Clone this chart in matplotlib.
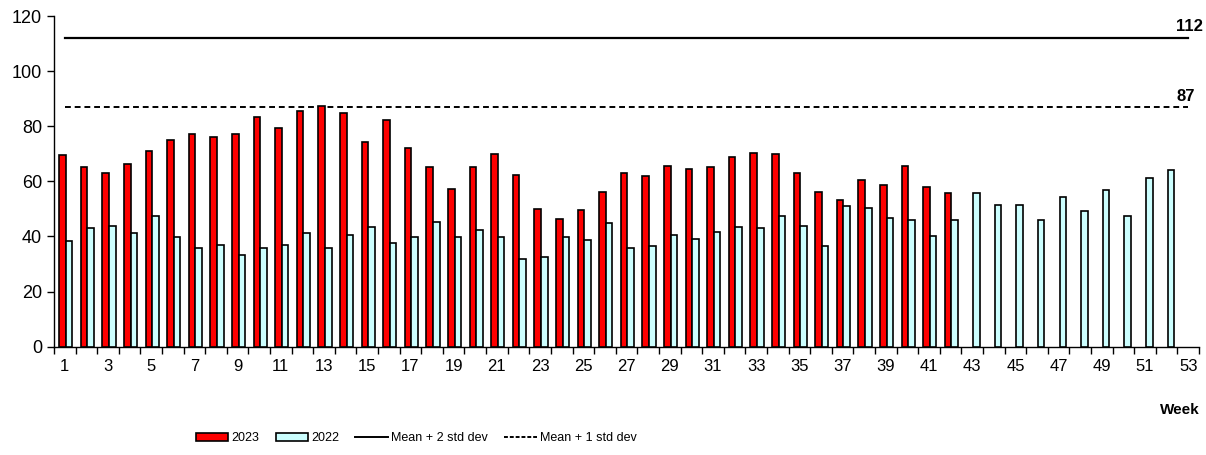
import matplotlib
matplotlib.use('Agg')
import matplotlib.pyplot as plt
import matplotlib.patches as mpatches
from matplotlib.lines import Line2D
import numpy as np

plt.rcParams.update({"font.family": ["Liberation Sans", "DejaVu Sans"]})

# weekly values
weeks = np.arange(1, 54)
y2023 = [69.5, 65.3, 63.1, 66.3, 70.9, 75.1, 77.3, 76.2, 77.3, 83.3,
         79.2, 85.5, 87.5, 84.8, 74.4, 82.2, 72.2, 65.2, 57.3, 65.2,
         69.8, 62.2, 49.9, 46.3, 49.6, 56.1, 63.2, 61.9, 65.5, 64.4,
         65.3, 68.9, 70.3, 69.8, 63.0, 56.3, 53.2, 60.6, 58.5, 65.5,
         58.0, 55.9]
y2022 = [38.2, 43.0, 43.9, 41.2, 47.4, 39.7, 35.7, 36.9, 33.4, 36.0,
         37.0, 41.4, 36.0, 40.4, 43.4, 37.6, 39.9, 45.3, 39.7, 42.4,
         39.9, 31.8, 32.4, 39.9, 38.8, 44.9, 36.0, 36.5, 40.7, 39.1,
         41.6, 43.5, 43.2, 47.3, 43.7, 36.6, 50.9, 50.2, 46.8, 46.1,
         40.0, 46.1, 55.9, 51.6, 51.6, 45.8, 54.2, 49.3, 56.7, 47.3,
         61.4, 64.0]
mean_2sd = 112
mean_1sd = 87

red = "#FF0000"
cyan = "#CCFFFF"

fig = plt.figure(figsize=(12.06, 4.55), dpi=100)
ax = fig.add_axes([0.0448, 0.238, 0.9494, 0.7268])

bw = 0.305
x23 = weeks[:len(y2023)]
x22 = weeks[:len(y2022)]
ax.bar(x23 - 0.11, y2023, width=bw, color=red, edgecolor="black", linewidth=1.2, zorder=3)
ax.bar(x22 + 0.195, y2022, width=bw, color=cyan, edgecolor="black", linewidth=1.2, zorder=3)

ax.plot([weeks[0], weeks[-1]], [mean_2sd, mean_2sd], color="black", linewidth=1.6, zorder=2)
ax.plot([weeks[0], weeks[-1]], [mean_1sd, mean_1sd], color="black", linewidth=1.4,
        linestyle=(0, (3, 2)), zorder=2)
ax.text(53.68, mean_2sd + 1.6, str(mean_2sd), ha="right", va="bottom",
        fontsize=12, fontweight="bold", clip_on=False)
ax.text(53.3, mean_1sd + 1.2, str(mean_1sd), ha="right", va="bottom",
        fontsize=12, fontweight="bold", clip_on=False)

ax.set_xlim(0.5, 53.5)
ax.set_ylim(0, 120)
ax.set_yticks(np.arange(0, 121, 20))
ax.set_xticks(weeks[::2])
ax.set_xticks(np.arange(0.5, 54, 1), minor=True)
ax.tick_params(axis="x", which="major", length=0, labelsize=12, pad=9)
ax.tick_params(axis="x", which="minor", length=5, width=1, direction="out")
ax.tick_params(axis="y", length=5, width=1, labelsize=13)
for s in ["top", "right"]:
    ax.spines[s].set_visible(False)
for s in ["left", "bottom"]:
    ax.spines[s].set_linewidth(1)

fig.text(0.995, 0.098, "Week", ha="right", va="center", fontsize=11, fontweight="bold")

handles = [
    mpatches.Patch(facecolor=red, edgecolor="black", linewidth=1.2, label="2023"),
    mpatches.Patch(facecolor=cyan, edgecolor="black", linewidth=1.2, label="2022"),
    Line2D([], [], color="black", linewidth=1.4, label="Mean + 2 std dev"),
    Line2D([], [], color="black", linewidth=1.4, linestyle=(0, (2, 1)), label="Mean + 1 std dev"),
]
fig.legend(handles=handles, loc="center", bbox_to_anchor=(0.345, 0.037), ncol=4,
           frameon=False, fontsize=9, handlelength=2.6, handleheight=0.65,
           handletextpad=0.25, columnspacing=1.3)

fig.savefig("out.png", dpi=100)
